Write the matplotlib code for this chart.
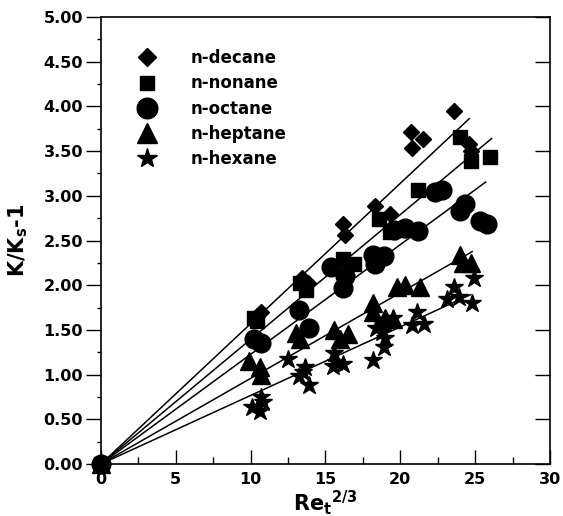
import matplotlib
matplotlib.use("Agg")
import matplotlib.pyplot as plt
from matplotlib.ticker import MultipleLocator, FormatStrFormatter
from matplotlib.lines import TICKLEFT

plt.rcParams['font.family'] = ['DejaVu Sans']
plt.rcParams['font.weight'] = 'bold'
plt.rcParams['mathtext.fontset'] = 'dejavusans'
plt.rcParams['mathtext.default'] = 'bf'

names = ['n-decane', 'n-nonane', 'n-octane', 'n-heptane', 'n-hexane']
markers = ['D', 's', 'o', '^', '*']
msizes = [8.5, 9.5, 13.5, 12.5, 13.5]

decane_x = [0, 10.7, 10.4, 13.4, 13.8, 16.2, 16.3, 18.3, 19.3, 20.7, 20.8, 21.5, 23.6, 24.6, 24.7]
decane_y = [0, 1.70, 1.65, 2.08, 2.02, 2.69, 2.56, 2.89, 2.80, 3.71, 3.54, 3.64, 3.95, 3.58, 3.50]

nonane_x = [0, 10.2, 10.4, 13.3, 13.7, 16.2, 16.9, 18.6, 19.3, 20.0, 21.2, 24.0, 24.7, 26.0]
nonane_y = [0, 1.63, 1.60, 2.03, 1.95, 2.29, 2.24, 2.74, 2.60, 2.62, 3.06, 3.66, 3.39, 3.43]

octane_x = [0, 10.2, 10.7, 13.2, 13.9, 15.4, 16.3, 16.2, 18.2, 18.3, 18.9, 19.6, 20.3, 21.2,
            22.3, 22.8, 24.0, 24.3, 25.3, 25.8]
octane_y = [0, 1.40, 1.35, 1.72, 1.52, 2.20, 2.10, 1.97, 2.34, 2.24, 2.33, 2.62, 2.64, 2.61,
            3.04, 3.06, 2.83, 2.91, 2.72, 2.68]

heptane_x = [0, 9.9, 10.6, 10.7, 13.0, 13.3, 15.6, 16.0, 16.5, 18.2, 18.2, 19.0, 19.5,
             19.8, 20.3, 21.3, 24.0, 24.2, 24.7]
heptane_y = [0, 1.15, 1.08, 0.99, 1.46, 1.40, 1.50, 1.40, 1.45, 1.80, 1.70, 1.63, 1.62,
             1.98, 2.00, 1.98, 2.34, 2.25, 2.25]

hexane_x = [0, 10.1, 10.6, 10.7, 10.8, 12.5, 13.2, 13.6, 13.5, 13.9, 15.6, 15.7, 16.2, 15.5,
            18.2, 18.4, 18.8, 19.0, 18.9, 19.5, 20.75, 21.1, 21.6, 23.1, 23.6, 23.9, 24.9, 24.8]
hexane_y = [0, 0.64, 0.59, 0.75, 0.69, 1.17, 0.98, 1.09, 1.03, 0.88, 1.24, 1.14, 1.12, 1.10,
            1.16, 1.52, 1.48, 1.41, 1.31, 1.63, 1.56, 1.70, 1.57, 1.85, 1.98, 1.87, 2.08, 1.80]

xs = [decane_x, nonane_x, octane_x, heptane_x, hexane_x]
ys = [decane_y, nonane_y, octane_y, heptane_y, hexane_y]

# fitted lines through origin
fit_slopes = [0.157, 0.1395, 0.1227, 0.0958, 0.0767]
fit_xend = [24.6, 26.1, 25.7, 24.8, 24.7]

fig = plt.figure(figsize=(5.63, 5.16), dpi=100)
ax = fig.add_axes([0.1794, 0.1008, 0.7975, 0.8662])

for s, xe in zip(fit_slopes, fit_xend):
    ax.plot([0, xe], [0, s * xe], color='black', lw=1.1, zorder=2)

for x, y, m, ms, n in zip(xs, ys, markers, msizes, names):
    ax.plot(x, y, linestyle='none', marker=m, ms=ms, color='black',
            markeredgecolor='black', label=n, zorder=3, clip_on=False)

ax.set_xlim(0, 30)
ax.set_ylim(0, 5)
ax.xaxis.set_major_locator(MultipleLocator(5))
ax.xaxis.set_minor_locator(MultipleLocator(2.5))
ax.yaxis.set_major_locator(MultipleLocator(0.5))
ax.yaxis.set_minor_locator(MultipleLocator(0.25))
ax.yaxis.set_major_formatter(FormatStrFormatter('%.2f'))

ax.tick_params(axis='x', which='major', direction='in', length=10, width=1, labelsize=11.5, pad=6)
ax.tick_params(axis='x', which='minor', direction='in', length=5, width=1)
ax.tick_params(axis='y', which='major', direction='out', length=11, width=1, labelsize=11.5, pad=2,
               right=True)
ax.tick_params(axis='y', which='minor', direction='out', length=3, width=1)
for lab in ax.get_xticklabels() + ax.get_yticklabels():
    lab.set_fontweight('bold')

# right side ticks point inward
for tl in ax.yaxis.get_major_ticks():
    tl.tick2line.set_marker(TICKLEFT)
    tl.tick2line.set_markersize(10.5)

for sp in ax.spines.values():
    sp.set_linewidth(1.2)

ax.set_xlabel('Re$_{t}$$^{2/3}$', fontsize=15, fontweight='bold', labelpad=0.5)
ax.set_ylabel('K/K$_{s}$-1', fontsize=15, fontweight='bold', labelpad=10)

leg = ax.legend(loc='upper left', bbox_to_anchor=(0.065, 0.928), frameon=False,
                prop={'weight': 'bold', 'size': 12}, handlelength=2.0, handletextpad=1.6,
                labelspacing=0.43, borderaxespad=0.0, borderpad=0.0, markerscale=1.1)

fig.savefig('out.png', dpi=100)
